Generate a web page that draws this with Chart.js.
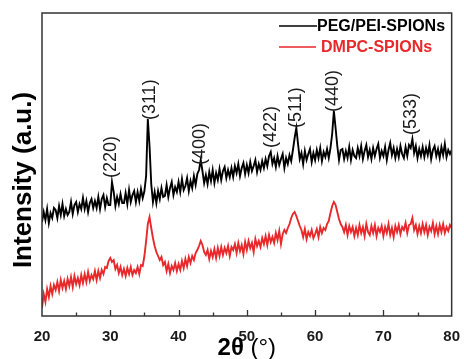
<!DOCTYPE html>
<html>
<head>
<meta charset="utf-8">
<script src="https://cdn.jsdelivr.net/npm/chart.js@4.4.1/dist/chart.umd.min.js"></script>
<style>
  html, body { margin: 0; padding: 0; background: #fff; }
  #wrap { width: 464px; height: 359px; }
</style>
</head>
<body>
<div id="wrap"><canvas id="xrd" width="464" height="359"></canvas></div>
<script>
// 2θ grid: 20° .. 80°, step 0.25°
const START_ANGLE = 20;
const STEP = 0.25;

// intensities (a.u.), one row = 2°
const pegPei = [
  94, 104, 96, 107, 93, 103, 98, 108,
  106, 98, 110, 101, 112, 100, 107, 101,
  104, 114, 102, 111, 114, 104, 112, 107,
  118, 107, 115, 104, 113, 117, 108, 115,
  108, 119, 107, 117, 121, 109, 118, 111,
  111, 134, 124, 110, 119, 112, 122, 113,
  113, 123, 112, 126, 114, 121, 125, 114,
  124, 115, 127, 118, 125, 140, 197, 170,
  132, 114, 124, 113, 125, 117, 128, 119,
  120, 131, 119, 128, 134, 121, 129, 124,
  134, 124, 137, 126, 130, 138, 125, 135,
  128, 140, 131, 142, 146, 156, 145, 133,
  141, 132, 144, 135, 146, 133, 143, 136,
  147, 136, 145, 149, 138, 146, 139, 148,
  139, 150, 143, 152, 140, 148, 153, 142,
  151, 143, 154, 145, 150, 156, 144, 152,
  146, 155, 148, 157, 150, 160, 164, 152,
  158, 149, 160, 151, 157, 162, 148, 158,
  152, 161, 155, 166, 178, 188, 172, 157,
  163, 152, 165, 156, 162, 167, 154, 163,
  156, 166, 158, 168, 155, 164, 159, 167,
  158, 168, 182, 205, 188, 170, 156, 166,
  167, 157, 165, 158, 169, 156, 166, 160,
  158, 168, 160, 170, 157, 165, 171, 159,
  166, 157, 168, 160, 167, 172, 158, 165,
  160, 169, 156, 166, 173, 161, 168, 158,
  167, 159, 170, 162, 158, 169, 160, 171,
  168, 177, 163, 170, 158, 167, 160, 169,
  159, 168, 161, 171, 157, 166, 170, 160,
  167, 158, 169, 161, 172, 159, 166, 162,
  166
];

const dmpc = [
  8, 22, 14, 27, 19, 30, 22, 31,
  26, 34, 25, 36, 28, 35, 27, 37,
  30, 39, 29, 40, 32, 38, 31, 41,
  33, 42, 34, 44, 35, 41, 37, 45,
  36, 45, 38, 46, 42, 49, 48, 55,
  58, 54, 56, 47, 51, 43, 49, 41,
  47, 40, 48, 42, 49, 41, 46, 43,
  49, 42, 51, 50, 60, 75, 92, 99,
  88, 78, 70, 64, 60, 56, 59, 51,
  54, 45, 52, 43, 50, 46, 53, 45,
  52, 46, 55, 48, 57, 50, 59, 53,
  60, 56, 63, 66, 70, 75, 71, 64,
  61, 66, 57, 65, 59, 67, 58, 68,
  60, 69, 61, 68, 63, 70, 60, 69,
  66, 72, 63, 73, 65, 71, 62, 74,
  66, 75, 68, 73, 64, 77, 70, 75,
  69, 78, 72, 80, 71, 81, 74, 79,
  73, 83, 76, 85, 72, 82, 86, 83,
  88, 92, 98, 102, 104, 100, 95, 90,
  86, 79, 87, 77, 84, 80, 86, 78,
  82, 87, 79, 89, 83, 88, 86, 92,
  95, 103, 110, 114, 111, 104, 97, 92,
  89, 84, 91, 81, 90, 84, 89, 80,
  88, 81, 91, 83, 89, 80, 92, 84,
  81, 90, 83, 91, 80, 88, 84, 90,
  80, 89, 83, 92, 81, 88, 79, 90,
  84, 91, 82, 89, 86, 93, 83, 91,
  92, 98, 86, 91, 82, 90, 83, 92,
  84, 91, 81, 89, 85, 93, 82, 90,
  82, 91, 84, 92, 83, 89, 85, 91,
  88
];

// peak indexing
const peakLabels = ['(220)', '(311)', '(400)', '(422)', '(511)', '(440)', '(533)'];
const peakAngles = [30.1, 35.8, 43.2, 53.6, 57.2, 62.6, 74.1];
const peakLabelBase = [138, 196, 151, 168, 188, 204, 181];

const seriesNames = ['PEG/PEI-SPIONs', 'DMPC-SPIONs'];
const seriesColors = ['#000000', '#e8282b'];

const FONT = '"Liberation Sans", Arial, Helvetica, sans-serif';
const INK = '#1a1a1a';

const toPoints = (arr) => arr.map((v, i) => ({ x: START_ANGLE + i * STEP, y: v }));

// frame, inward ticks, titles, peak labels, legend
const decor = {
  id: 'decor',
  afterDatasetsDraw(chart) {
    const { ctx, chartArea: a, scales: { x, y } } = chart;
    ctx.save();

    // box
    ctx.strokeStyle = '#333';
    ctx.lineWidth = 1.5;
    ctx.strokeRect(a.left, a.top, a.right - a.left, a.bottom - a.top);

    // inward ticks on the bottom axis
    ctx.lineWidth = 1.3;
    for (let v = 25; v < 80; v += 5) {
      const px = Math.round(x.getPixelForValue(v)) + 0.5;
      const len = v % 10 === 0 ? 6 : 3.5;
      ctx.beginPath();
      ctx.moveTo(px, a.bottom);
      ctx.lineTo(px, a.bottom - len);
      ctx.stroke();
    }

    // peak labels
    ctx.fillStyle = INK;
    ctx.font = '18px ' + FONT;
    ctx.textAlign = 'left';
    ctx.textBaseline = 'middle';
    peakLabels.forEach((t, i) => {
      ctx.save();
      ctx.translate(x.getPixelForValue(peakAngles[i]), y.getPixelForValue(peakLabelBase[i]));
      ctx.rotate(-Math.PI / 2);
      ctx.fillText(t, 0, 0);
      ctx.restore();
    });

    // legend
    const lx0 = 279;
    [[26, 317, 317], [47, 316, 321]].forEach(([ly, lx1, tx], i) => {
      ctx.strokeStyle = seriesColors[i];
      ctx.lineWidth = 1.5;
      ctx.beginPath();
      ctx.moveTo(lx0, ly);
      ctx.lineTo(lx1, ly);
      ctx.stroke();
      ctx.fillStyle = i === 0 ? '#000' : seriesColors[1];
      ctx.font = 'bold 16px ' + FONT;
      ctx.textAlign = 'left';
      ctx.textBaseline = 'middle';
      ctx.fillText(seriesNames[i], tx, ly + 1);
    });

    // y title
    ctx.save();
    ctx.translate(24, 180);
    ctx.rotate(-Math.PI / 2);
    ctx.fillStyle = '#000';
    ctx.font = 'bold 26px ' + FONT;
    ctx.textAlign = 'center';
    ctx.textBaseline = 'middle';
    ctx.fillText('Intensity (a.u.)', 0, 0);
    ctx.restore();

    // x title: bold "2θ" + regular " (°)"
    ctx.fillStyle = '#000';
    ctx.textBaseline = 'alphabetic';
    ctx.textAlign = 'left';
    ctx.font = 'bold 24px ' + FONT;
    const w1 = ctx.measureText('2θ').width;
    ctx.font = '24px ' + FONT;
    const w2 = ctx.measureText(' (°)').width;
    const cx = (a.left + a.right) / 2;
    const sx = cx - (w1 + w2) / 2;
    ctx.font = 'bold 24px ' + FONT;
    ctx.fillText('2θ', sx, 355);
    ctx.font = '24px ' + FONT;
    ctx.fillText(' (°)', sx + w1, 355);

    ctx.restore();
  }
};

new Chart(document.getElementById('xrd'), {
  type: 'line',
  data: {
    datasets: [
      {
        label: seriesNames[0],
        data: toPoints(pegPei),
        borderColor: seriesColors[0],
        borderWidth: 1.9,
        borderJoinStyle: 'miter',
        pointRadius: 0,
        tension: 0
      },
      {
        label: seriesNames[1],
        data: toPoints(dmpc),
        borderColor: seriesColors[1],
        borderWidth: 1.9,
        borderJoinStyle: 'miter',
        pointRadius: 0,
        tension: 0
      }
    ]
  },
  options: {
    responsive: false,
    animation: false,
    devicePixelRatio: 1,
    layout: { padding: { top: 13, right: 8, left: 0, bottom: 0 } },
    plugins: { legend: { display: false }, tooltip: { enabled: false } },
    scales: {
      x: {
        type: 'linear',
        min: 20,
        max: 80,
        grid: { display: false },
        border: { display: false },
        ticks: {
          stepSize: 10,
          autoSkip: false,
          maxRotation: 0,
          padding: 4,
          color: INK,
          font: { family: FONT, size: 15, weight: 'bold' }
        },
        afterFit(scale) { scale.height = 43; }
      },
      y: {
        min: 0,
        max: 303,
        grid: { display: false },
        border: { display: false },
        ticks: { display: false },
        afterFit(scale) { scale.width = 42; }
      }
    }
  },
  plugins: [decor]
});
</script>
</body>
</html>
